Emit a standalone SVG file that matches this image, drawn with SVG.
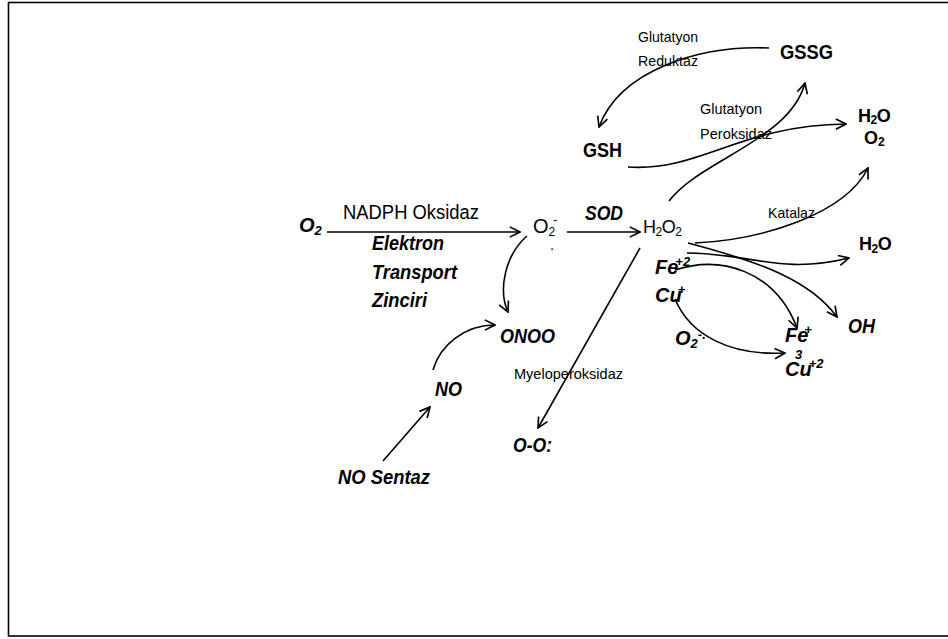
<svg xmlns="http://www.w3.org/2000/svg" width="948" height="639" viewBox="0 0 948 639">
<style>
text{font-family:"Liberation Sans",Arial,sans-serif;fill:#000}
.bi{font-weight:bold;font-style:italic;font-size:20px}
.b{font-weight:bold;font-size:20px}
.r{font-size:20px}
.s{font-size:15px}
.c{fill:none;stroke:#000;stroke-width:1.6}
</style>
<defs>
<marker id="ah" viewBox="0 0 10 10" refX="9" refY="5" markerWidth="8" markerHeight="8" orient="auto" markerUnits="strokeWidth">
<path d="M1,1 L9,5 L1,9" fill="none" stroke="#000" stroke-width="1.3"/>
</marker>
</defs>
<rect x="8.5" y="2.5" width="945" height="633.5" fill="#fff" stroke="#000" stroke-width="1.6"/>
<g id="connectors">
<path class="c" d="M327,232 L520,232" marker-end="url(#ah)"/>
<path class="c" d="M567,232 L640,232" marker-end="url(#ah)"/>
<path class="c" d="M527,236 C505,255 498,290 508,312" marker-end="url(#ah)"/>
<path class="c" d="M433,370 C440,345 465,325 495,325" marker-end="url(#ah)"/>
<path class="c" d="M383,461 L430,407" marker-end="url(#ah)"/>
<path class="c" d="M640,248 L538,428" marker-end="url(#ah)"/>
<path class="c" d="M769,48 C700,45 620,70 599,127" marker-end="url(#ah)"/>
<path class="c" d="M628,167 C700,172 740,125 846,124" marker-end="url(#ah)"/>
<path class="c" d="M669,201 C700,160 790,140 805,83" marker-end="url(#ah)"/>
<path class="c" d="M695,243 C760,240 845,215 868,168" marker-end="url(#ah)"/>
<path class="c" d="M687,253 C750,253 780,275 849,258" marker-end="url(#ah)"/>
<path class="c" d="M688,243 C760,262 810,280 837,317" marker-end="url(#ah)"/>
<path class="c" d="M675,270 C720,255 775,270 797,328" marker-end="url(#ah)"/>
<path class="c" d="M675,299 C690,335 730,356 785,353" marker-end="url(#ah)"/>
</g>
<g id="o2"><text class="bi" x="299" y="232">O<tspan font-size="13" dy="3">2</tspan></text></g>
<g id="nadph"><text class="r" x="343" y="219" textLength="136" lengthAdjust="spacingAndGlyphs">NADPH Oksidaz</text></g>
<g id="etz">
<text class="bi" x="372" y="250" textLength="72" lengthAdjust="spacingAndGlyphs">Elektron</text>
<text class="bi" x="372" y="279" textLength="85" lengthAdjust="spacingAndGlyphs">Transport</text>
<text class="bi" x="372" y="307" textLength="55" lengthAdjust="spacingAndGlyphs">Zinciri</text>
</g>
<g id="superoxide"><text class="r" x="533" y="233">O<tspan font-size="12" dy="3">2</tspan><tspan font-size="12" dx="-2" dy="-12">-</tspan></text><text class="s" x="550" y="250">.</text></g>
<g id="sod"><text class="bi" x="585" y="220" textLength="38" lengthAdjust="spacingAndGlyphs">SOD</text></g>
<g id="h2o2"><text class="r" x="643" y="233" style="font-size:18px;letter-spacing:-0.5px">H<tspan font-size="12" dy="3">2</tspan><tspan dy="-3">O</tspan><tspan font-size="12" dy="3">2</tspan></text></g>
<g id="onoo"><text class="bi" x="500" y="343" textLength="55" lengthAdjust="spacingAndGlyphs">ONOO</text></g>
<g id="no"><text class="bi" x="435" y="396" textLength="27" lengthAdjust="spacingAndGlyphs">NO</text></g>
<g id="nosentaz"><text class="bi" x="338" y="484" textLength="92" lengthAdjust="spacingAndGlyphs">NO Sentaz</text></g>
<g id="myelo"><text class="s" x="514" y="379" textLength="109" lengthAdjust="spacingAndGlyphs">Myeloperoksidaz</text></g>
<g id="oo"><text class="bi" x="513" y="452" textLength="39" lengthAdjust="spacingAndGlyphs">O-O:</text></g>
<g id="gr"><text class="s" x="638" y="42" textLength="60" lengthAdjust="spacingAndGlyphs">Glutatyon</text><text class="s" x="638" y="66" textLength="60" lengthAdjust="spacingAndGlyphs">Reduktaz</text></g>
<g id="gssg"><text class="b" x="780" y="59" textLength="53" lengthAdjust="spacingAndGlyphs">GSSG</text></g>
<g id="gsh"><text class="b" x="583" y="157" textLength="39" lengthAdjust="spacingAndGlyphs">GSH</text></g>
<g id="gp"><text class="s" x="700" y="114" textLength="62" lengthAdjust="spacingAndGlyphs">Glutatyon</text><text class="s" x="700" y="139" textLength="72" lengthAdjust="spacingAndGlyphs">Peroksidaz</text></g>
<g id="h2o-o2"><text class="b" x="858" y="122" style="font-size:18px;letter-spacing:-0.5px">H<tspan font-size="12" dy="2">2</tspan><tspan dy="-2">O</tspan></text><text class="b" x="864" y="144" style="font-size:18px">O<tspan font-size="12" dy="2">2</tspan></text></g>
<g id="katalaz"><text class="s" x="768" y="218" textLength="47" lengthAdjust="spacingAndGlyphs">Katalaz</text></g>
<g id="h2o"><text class="b" x="859" y="250" style="font-size:18px;letter-spacing:-0.5px">H<tspan font-size="12" dy="3">2</tspan><tspan dy="-3">O</tspan></text></g>
<g id="oh"><text class="bi" x="848" y="333" textLength="27" lengthAdjust="spacingAndGlyphs">OH</text></g>
<g id="fe2"><text class="bi" x="655" y="274">Fe<tspan font-size="13" dx="-3" dy="-8">+2</tspan></text></g>
<g id="cu"><text class="bi" x="655" y="302">Cu<tspan font-size="13" dx="-4" dy="-8">+</tspan></text></g>
<g id="o2rad"><text class="bi" x="675" y="345">O<tspan font-size="13" dy="3">2</tspan><tspan font-size="13" dy="-9">-.</tspan></text></g>
<g id="fe3"><text class="bi" x="785" y="342">Fe<tspan font-size="13" dx="-4" dy="-8">+</tspan></text><text class="bi" x="795" y="359" style="font-size:13px">3</text></g>
<g id="cu2"><text class="bi" x="785" y="376">Cu<tspan font-size="13" dx="-3" dy="-8">+2</tspan></text></g>
</svg>
